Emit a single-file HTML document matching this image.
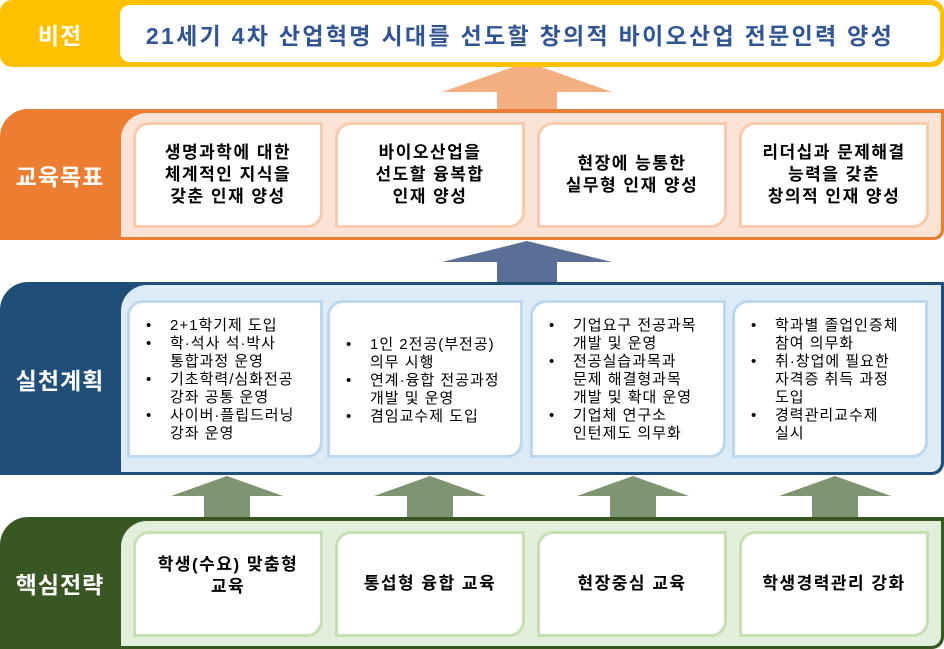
<!DOCTYPE html>
<html><head><meta charset="utf-8"><style>
body{margin:0;width:944px;height:649px;position:relative;background:#fff;font-family:"Liberation Sans","Noto Sans CJK KR",sans-serif;overflow:hidden}
.a{position:absolute;box-sizing:border-box}
.lbl{color:#fff;font-weight:bold;font-size:23px;letter-spacing:1px;display:flex;align-items:center;justify-content:center;width:120px}
.card{position:absolute;box-sizing:border-box;background:#fff;border:3px solid;border-radius:16px 0 16px 0;display:flex;align-items:center;justify-content:center;text-align:center;font-weight:bold;font-size:17px;letter-spacing:1.5px;line-height:22px;color:#000;white-space:nowrap}
.plan{align-items:flex-start;justify-content:flex-start;text-align:left;font-weight:normal;font-size:15px;letter-spacing:1px;line-height:18px}
ul{margin:0;padding:0 0 0 40px}
li{list-style:none;position:relative}
li:before{content:"•";position:absolute;left:-24px}
</style></head><body>
<svg class="a" style="left:0;top:0" width="944" height="649">
<polygon points="527,62 612,92 557,92 557,112 497,112 497,92 442,92" fill="#F4AF80"/>
<polygon points="527,241 612,262 557,262 557,284 497,284 497,262 442,262" fill="#5A6E96"/>
<g fill="#7F9470">
<polygon points="227,476 283,496 250,496 250,519 204,519 204,496 171,496"/>
<polygon points="430,476 486,496 453,496 453,519 407,519 407,496 374,496"/>
<polygon points="633,476 689,496 656,496 656,519 610,519 610,496 577,496"/>
<polygon points="835,476 891,496 858,496 858,519 812,519 812,496 779,496"/>
</g></svg>
<div class="a" style="left:0;top:0;width:944px;height:67px;background:#FFC000;border-radius:12px"></div>
<div class="a lbl" style="left:0;top:0;height:67px">비전</div>
<div class="a" style="left:120px;top:5px;width:820px;height:57px;background:#fff;border-radius:10px;display:flex;align-items:center;justify-content:center;color:#2F5597;font-weight:bold;font-size:23px;letter-spacing:2.3px;padding-right:20px;white-space:nowrap">21세기 4차 산업혁명 시대를 선도할 창의적 바이오산업 전문인력 양성</div>
<div class="a" style="left:0;top:109px;width:944px;height:131px;background:#ED7D31;border-radius:28px 0 10px 0"></div>
<div class="a lbl" style="left:0;top:109px;height:131px">교육목표</div>
<div class="a" style="left:121px;top:113px;width:820px;height:124px;background:#FBE4D6;border-radius:26px 0 8px 0"></div>
<div class="card" style="left:133px;top:122px;width:190px;height:106px;border-color:#F8CBAD">생명과학에 대한<br>체계적인 지식을<br>갖춘 인재 양성</div>
<div class="card" style="left:335px;top:122px;width:190px;height:106px;border-color:#F8CBAD">바이오산업을<br>선도할 융복합<br>인재 양성</div>
<div class="card" style="left:537px;top:122px;width:190px;height:106px;border-color:#F8CBAD">현장에 능통한<br>실무형 인재 양성</div>
<div class="card" style="left:739px;top:122px;width:190px;height:106px;border-color:#F8CBAD">리더십과 문제해결<br>능력을 갖춘<br>창의적 인재 양성</div>
<div class="a" style="left:0;top:282px;width:944px;height:193px;background:#1F4E79;border-radius:28px 0 12px 0"></div>
<div class="a lbl" style="left:0;top:282px;height:193px">실천계획</div>
<div class="a" style="left:121px;top:285px;width:820px;height:187px;background:#DDEBF7;border-radius:26px 0 10px 0"></div>
<div class="card plan" style="left:127px;top:300px;width:196px;height:158px;border-color:#BDD7EE;padding-top:14px"><ul><li>2+1학기제 도입</li><li>학·석사 석·박사<br>통합과정 운영</li><li>기초학력/심화전공<br>강좌 공통 운영</li><li>사이버·플립드러닝<br>강좌 운영</li></ul></div>
<div class="card plan" style="left:327px;top:300px;width:196px;height:158px;border-color:#BDD7EE;padding-top:33px"><ul><li>1인 2전공(부전공)<br>의무 시행</li><li>연계·융합 전공과정<br>개발 및 운영</li><li>겸임교수제 도입</li></ul></div>
<div class="card plan" style="left:530px;top:300px;width:196px;height:158px;border-color:#BDD7EE;padding-top:14px"><ul><li>기업요구 전공과목<br>개발 및 운영</li><li>전공실습과목과<br>문제 해결형과목<br>개발 및 확대 운영</li><li>기업체 연구소<br>인턴제도 의무화</li></ul></div>
<div class="card plan" style="left:732px;top:300px;width:196px;height:158px;border-color:#BDD7EE;padding-top:14px"><ul><li>학과별 졸업인증체<br>참여 의무화</li><li>취·창업에 필요한<br>자격증 취득 과정<br>도입</li><li>경력관리교수제<br>실시</li></ul></div>
<div class="a" style="left:0;top:517px;width:944px;height:132px;background:#385723;border-radius:28px 0 12px 0"></div>
<div class="a lbl" style="left:0;top:517px;height:132px">핵심전략</div>
<div class="a" style="left:121px;top:521px;width:820px;height:125px;background:#E2EFDA;border-radius:26px 0 10px 0"></div>
<div class="card" style="left:133px;top:531px;width:190px;height:106px;border-color:#C6E0B4;padding-bottom:16px">학생(수요) 맞춤형<br>교육</div>
<div class="card" style="left:335px;top:531px;width:190px;height:106px;border-color:#C6E0B4">통섭형 융합 교육</div>
<div class="card" style="left:537px;top:531px;width:190px;height:106px;border-color:#C6E0B4">현장중심 교육</div>
<div class="card" style="left:739px;top:531px;width:190px;height:106px;border-color:#C6E0B4">학생경력관리 강화</div>
</body></html>
